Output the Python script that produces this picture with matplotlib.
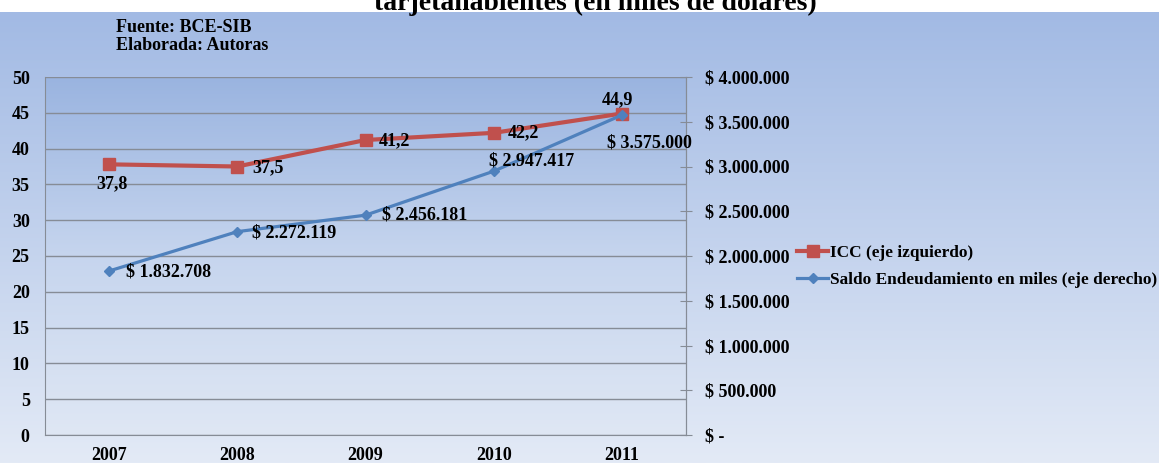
import numpy as np
import matplotlib.pyplot as plt
from matplotlib.colors import LinearSegmentedColormap

years = ['2007', '2008', '2009', '2010', '2011']
icc = [37.8, 37.5, 41.2, 42.2, 44.9]
saldo = [1832708, 2272119, 2456181, 2947417, 3575000]
icc_labels = ['37,8', '37,5', '41,2', '42,2', '44,9']
saldo_labels = ['$ 1.832.708', '$ 2.272.119', '$ 2.456.181', '$ 2.947.417', '$ 3.575.000']
left_ticks = [0, 5, 10, 15, 20, 25, 30, 35, 40, 45, 50]
right_ticks = [0, 500000, 1000000, 1500000, 2000000, 2500000, 3000000, 3500000, 4000000]
right_labels = ['$ -', '$ 500.000', '$ 1.000.000', '$ 1.500.000', '$ 2.000.000',
                '$ 2.500.000', '$ 3.000.000', '$ 3.500.000', '$ 4.000.000']

RED = '#c0504d'
BLUE = '#4f81bd'
GRID = '#868c96'
FONT = 'Liberation Serif'
FS = 13

plt.rcParams['font.family'] = FONT
plt.rcParams['font.weight'] = 'bold'

W, H = 1159, 463
fig = plt.figure(figsize=(W / 100, H / 100), dpi=100)
fig.patch.set_facecolor('white')

# gradient background of the chart area (below the white strip)
bg = fig.add_axes([0, 0, 1, (H - 12) / H], zorder=-10)
grad = np.linspace(0, 1, 256).reshape(-1, 1)
cmap_bg = LinearSegmentedColormap.from_list('bg', ['#e3eaf6', '#a2bae4'])
bg.imshow(grad, aspect='auto', cmap=cmap_bg, origin='lower', extent=[0, 1, 0, 1])
bg.axis('off')

ax = fig.add_axes([45 / W, (H - 435) / H, (686 - 45) / W, (435 - 77) / H])
cmap_pa = LinearSegmentedColormap.from_list('pa', ['#dfe7f4', '#c6d5ee', '#9ab4e0'])
ax.imshow(grad, aspect='auto', cmap=cmap_pa, origin='lower',
          extent=[-0.5, 4.5, 0, 50], zorder=0)

x = np.arange(len(years))
ax.set_xlim(-0.5, 4.5)
ax.set_ylim(0, 50)
ax.set_yticks(left_ticks)
ax.set_xticks(x)
ax.set_xticklabels(years)
ax.tick_params(axis='both', length=0, labelsize=FS)
ax.tick_params(axis='x', pad=9)
ax.tick_params(axis='y', pad=11)
for t in ax.get_yticklabels() + ax.get_xticklabels():
    t.set_fontweight('bold')
ax.grid(axis='y', color=GRID, linewidth=1)
ax.set_axisbelow(True)
for s in ax.spines.values():
    s.set_color(GRID)
ax.spines['top'].set_visible(False)

ax2 = ax.twinx()
ax2.set_ylim(0, 4000000)
ax2.set_yticks(right_ticks)
ax2.set_yticklabels(right_labels, fontweight='bold')
ax2.tick_params(axis='y', direction='inout', length=8, color=GRID, labelsize=FS, pad=10)
for s in ax2.spines.values():
    s.set_visible(False)
ax2.spines['right'].set_visible(True)
ax2.spines['right'].set_color(GRID)

l1, = ax.plot(x, icc, color=RED, linewidth=3, marker='s', markersize=8, zorder=3,
              label='ICC (eje izquierdo)')
l2, = ax2.plot(x, saldo, color=BLUE, linewidth=2.3, marker='D', markersize=5.5, zorder=4,
               label='Saldo Endeudamiento en miles (eje derecho)')

# data labels, offsets in pixels
icc_off = [(-13, -19), (15, -1), (13, -1), (14, 0), (-20, 14)]
for i, (v, lab) in enumerate(zip(icc, icc_labels)):
    ax.annotate(lab, (x[i], v), xytext=icc_off[i], textcoords='offset pixels',
                ha='left', va='center', fontsize=FS, fontweight='bold', zorder=5)
saldo_off = [(17, -1), (15, -1), (17, 0), (-5, 10), (-15, -28)]
for i, (v, lab) in enumerate(zip(saldo, saldo_labels)):
    ax2.annotate(lab, (x[i], v), xytext=saldo_off[i], textcoords='offset pixels',
                 ha='left', va='center', fontsize=FS, fontweight='bold', zorder=5)

fig.legend(handles=[l1, l2], loc='upper left', bbox_to_anchor=(797 / W, 1 - 245 / H),
           frameon=False, prop={'family': FONT, 'weight': 'bold', 'size': 12.4},
           handlelength=1.8, handletextpad=0.1, labelspacing=0.62,
           borderaxespad=0, borderpad=0)

fig.text(116 / W, 1 - 27 / H, 'Fuente: BCE-SIB', fontsize=FS, fontweight='bold', va='center')
fig.text(116 / W, 1 - 45 / H, 'Elaborada: Autoras', fontsize=FS, fontweight='bold', va='center')
fig.text(595 / W, 1 - 10 / H, 'tarjetahabientes (en miles de dólares)', fontsize=20,
         fontweight='bold', ha='center', va='baseline')

fig.savefig('out.png', dpi=100)
